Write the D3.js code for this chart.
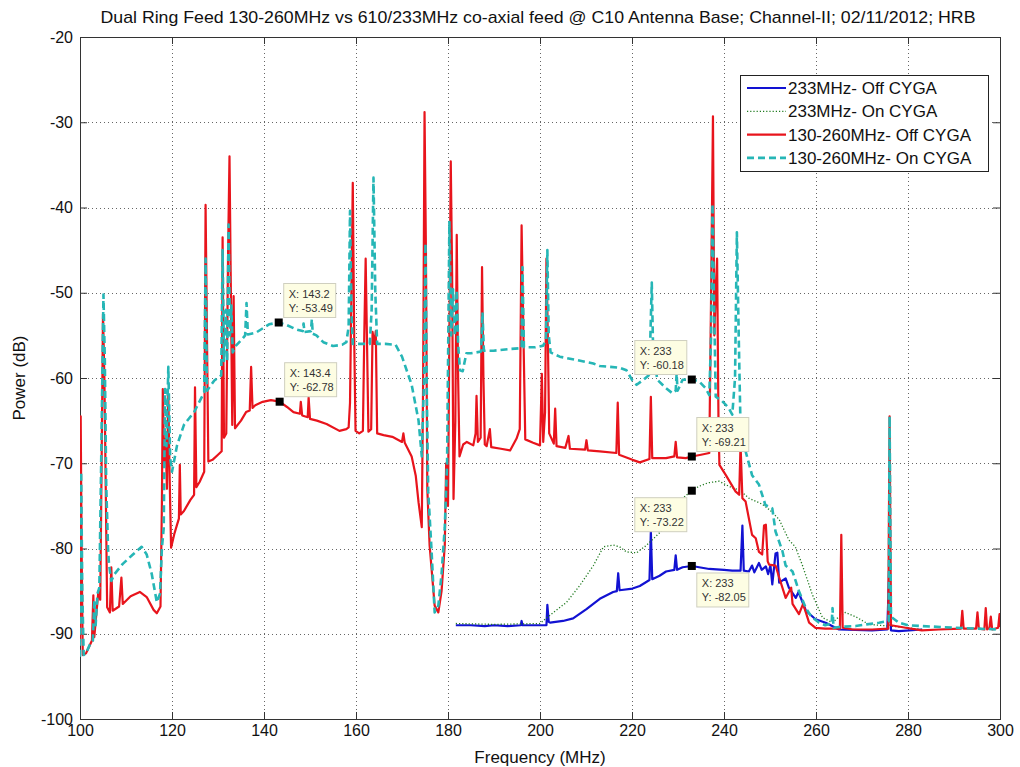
<!DOCTYPE html>
<html>
<head>
<meta charset="utf-8">
<script src="https://cdn.jsdelivr.net/npm/d3@7"></script>
<style>
  body { margin: 0; background: #fff; }
  svg { display: block; font-family: 'Liberation Sans', Arial, Helvetica, sans-serif; }
</style>
</head>
<body>
<div id="chart"></div>
<script>
// tick values
const freqTicks = [100, 120, 140, 160, 180, 200, 220, 240, 260, 280, 300];
const powerTicks = [-100, -90, -80, -70, -60, -50, -40, -30, -20];

// 233MHz feed, off source  [MHz, dB]
const narrowOff = [
  [181.7, -89], [185, -89], [188, -89.1], [190, -89], [193, -89.1], [195.8, -89], [196, -88.5], [196.2, -89],
  [198, -89], [200, -89], [201.4, -89], [201.6, -86.6], [201.9, -88.6], [202.2, -88.7], [205, -88.5],
  [207.2, -88.2], [210.1, -87.1], [213, -85.9], [215.9, -85.1], [216.7, -85], [217, -82.9], [217.3, -84.9],
  [220.1, -84.7], [221.7, -84.4], [223.8, -83.7], [224.1, -78], [224.4, -83.6], [226, -83.2], [227.4, -82.7],
  [229.2, -82.5], [229.5, -80.8], [229.8, -82.5], [231, -82.2], [233, -82.05], [236.8, -82.4], [240, -82.5],
  [241.8, -82.6], [243.6, -82.6], [244, -77.3], [244.3, -82.6], [245.4, -82.7], [246.1, -82], [246.6, -82.8],
  [247.6, -81.7], [248.2, -82.5], [249.1, -82.1], [249.6, -83], [250.1, -82], [250.5, -84.2], [251.2, -80.6],
  [251.6, -80.5], [252, -84], [253.4, -83.5], [254.1, -84.6], [255.6, -85.8], [256.2, -85.1], [257.8, -87.3],
  [259.9, -88.3], [262.1, -88.7], [265, -89.5], [272.2, -89.6], [275.5, -89.5], [276, -81], [276.3, -89.6],
  [278, -89.7], [283.1, -89.5]
];

// 233MHz feed, on source
const narrowOn = [
  [181.7, -88.8], [190, -88.9], [200, -88.8], [202.2, -87.8], [205.8, -86.3], [208.7, -84.3], [211.6, -82],
  [213.8, -79.8], [215.9, -79.6], [217.3, -79.8], [218.8, -80.4], [221, -80.5], [223.2, -79.6], [226.1, -78.1],
  [227.4, -77.3], [229, -76], [231, -74.1], [233, -73.22], [234.6, -72.7], [236.5, -72.3], [238.9, -72.1],
  [241.8, -72.9], [243.3, -73.1], [245.4, -74.1], [248.3, -74.8], [250, -75.5], [252, -76.6], [254.1, -79],
  [255.5, -79.8], [257, -81.9], [259.2, -85.4], [261.4, -88.1], [263.6, -88.7], [265, -88], [266.4, -87.5],
  [268.6, -88], [271.5, -88.9], [275.9, -89.1], [276, -85], [276.3, -89.1], [283.1, -89.5]
];

// 130-260MHz feed, off source
const wideOff = [
  [100, -91], [100.15, -64.5], [100.35, -80], [100.6, -92.5], [101.3, -92.3], [102, -91.5], [102.6, -90.8],
  [102.9, -85.5], [103.1, -90.4], [103.5, -88], [104, -85], [104.4, -86], [104.7, -70], [105, -52.5],
  [105.3, -60], [105.6, -73], [105.9, -86.9], [106.5, -87.5], [106.8, -82.2], [107.1, -87.3], [108.5, -86.8],
  [109, -83.4], [109.3, -86.5], [111, -85.6], [113, -85.1], [114.5, -85.7], [116, -87.2], [116.7, -87.6],
  [117.5, -86.8], [117.8, -75], [118, -61.3], [118.3, -70], [118.6, -67.1], [118.9, -73], [119.2, -62],
  [119.5, -72], [119.8, -79.9], [120.5, -78.3], [121.1, -77.2], [121.5, -76.5], [121.7, -70.2], [121.9, -76],
  [122.6, -75.6], [124, -74.3], [124.8, -73.7], [125, -61.1], [125.3, -72.8], [126, -72.2], [127, -71],
  [127.3, -39.7], [127.6, -55], [127.9, -69.8], [128.8, -69.6], [130, -69], [130.8, -68.6], [131, -43.5],
  [131.3, -67], [131.8, -66.5], [132.2, -45], [132.5, -34], [132.8, -50], [133.1, -65.5], [133.4, -50.4],
  [133.7, -65.9], [135, -65], [136.1, -64], [136.9, -63.8], [137.2, -58.7], [137.5, -63.5], [138.1, -63.2],
  [139.7, -62.8], [141.5, -62.6], [143.4, -62.78], [145, -63.4], [146.4, -64], [147.8, -64.2], [148, -62.8],
  [148.3, -64.4], [149.5, -64.6], [149.7, -62.3], [150, -64.8], [151.5, -65], [153.6, -65.4], [156.4, -66.2],
  [157.9, -66], [158.4, -65.8], [158.7, -62.9], [159, -50], [159.3, -37.1], [159.6, -55], [159.9, -66.2],
  [160.7, -66.5], [161.5, -66.2], [161.8, -55], [162.1, -46], [162.4, -56], [162.7, -66.3], [163.3, -66],
  [163.6, -54.6], [164, -56], [164.3, -54.5], [164.6, -66.5], [166, -66.7], [167.9, -66.9], [170, -67.5],
  [170.3, -66.5], [170.6, -67.6], [172.1, -69.2], [173, -71.5], [173.6, -74.6], [174.3, -77.5], [174.6, -60],
  [174.9, -28.8], [175.2, -45], [175.5, -73], [176, -79.6], [177.1, -86.7], [177.9, -87.5], [178.6, -85],
  [179.3, -79.6], [179.6, -70], [180, -75], [180.3, -55], [180.6, -34.6], [180.9, -48], [181.2, -74.2],
  [181.6, -65], [181.9, -43.2], [182.2, -60], [182.5, -69.2], [183.3, -67.8], [184.1, -67.5], [185.5, -67.9],
  [186, -66.5], [186.2, -62.1], [186.5, -67.5], [187.1, -67], [187.4, -47], [187.7, -60], [188, -67.8],
  [188.4, -68], [189.1, -66], [189.4, -68.1], [191.5, -68.3], [193.5, -68.5], [194.9, -67.1], [195.6, -66],
  [196, -42.1], [196.4, -55], [196.8, -67.2], [198.5, -67.6], [200, -67.9], [200.4, -59.5], [200.7, -67.5],
  [201.1, -64], [201.4, -46], [201.7, -55], [202, -66.5], [203, -67.7], [203.3, -63.6], [203.6, -68],
  [205.5, -68.2], [206.2, -66.8], [206.5, -68.3], [209.8, -68.4], [210.1, -67.3], [210.4, -68.5], [213, -68.6],
  [216.6, -68.8], [216.9, -62.9], [217.2, -69], [220.1, -69.6], [221.7, -69.9], [223.8, -69.5], [224.1, -62.2],
  [224.4, -69.4], [227.4, -69.4], [229.2, -69.2], [229.5, -67.5], [229.8, -69.3], [231.7, -69.4], [233, -69.21],
  [235, -69], [236.8, -68.8], [237.2, -50], [237.6, -29.3], [237.9, -55], [238.2, -50], [238.5, -46],
  [238.8, -65], [239, -70.2], [240.4, -71.4], [242.5, -73.3], [243.3, -73.7], [243.6, -67.8], [244, -74.1],
  [244.7, -74.5], [246.1, -78.4], [246.9, -78.8], [247.6, -80.4], [248.3, -80.7], [248.7, -77.3], [249.1, -77.2],
  [249.5, -81.5], [249.8, -81.9], [251.2, -82], [252, -83.4], [253.4, -85.8], [254.6, -84.6], [254.9, -86.5],
  [256.3, -87.7], [257.2, -86.5], [258.5, -88.7], [259.9, -89.3], [262, -89.4], [265.2, -89.4], [265.5, -78.4],
  [265.8, -89.3], [268, -89.5], [272.2, -89.5], [275.7, -89.4], [276, -64.5], [276.3, -89], [279.5, -89.3],
  [283, -89.6], [286.7, -89.5], [291.5, -89.4], [291.8, -87.3], [292.1, -89.4], [294.8, -89.4], [295.1, -87.5],
  [295.4, -89.4], [296.6, -89.5], [296.9, -87], [297.2, -89.5], [297.7, -89.3], [298, -88], [298.3, -89.5],
  [299.6, -89.3], [299.9, -87.7], [300, -89.2]
];

// 130-260MHz feed, on source
const wideOn = [
  [100, -92.7], [100.25, -71], [100.5, -85], [100.8, -92.5], [101.3, -92.3], [102.2, -91.2], [102.8, -90.8],
  [103.1, -86], [103.4, -89], [103.8, -85.3], [104.2, -84.6], [104.6, -70], [105.1, -50.2], [105.4, -58],
  [105.7, -72.5], [106.1, -80], [106.3, -81.8], [106.8, -83.8], [107.5, -83], [109.3, -81.8], [111.5, -80.7],
  [113.4, -79.8], [114.5, -80.7], [115.6, -83], [116.7, -86.3], [117.4, -85.3], [117.8, -80], [118.2, -77.6],
  [118.5, -61.3], [118.8, -68], [119.2, -58.7], [119.6, -69.4], [120, -71], [121.1, -67.9], [122.6, -65.5],
  [124.8, -64], [127, -61.7], [127.3, -46], [127.6, -61.5], [129.2, -60.3], [130.7, -59.7], [131, -45],
  [131.3, -58], [131.7, -52], [132, -58], [132.3, -42], [132.6, -55], [132.9, -51.5], [133.2, -57],
  [133.9, -56.2], [135.3, -55.4], [135.9, -55], [136.2, -51.2], [136.5, -54.9], [138.2, -54.7], [141.1, -53.7],
  [143.2, -53.49], [145, -53.8], [147, -54.3], [148.4, -54.5], [148.6, -53.6], [148.8, -54.6], [150.2, -54.5],
  [150.4, -53.1], [150.6, -54.8], [151.4, -55], [152.9, -55.8], [155, -56.25], [157, -56.1], [157.9, -55.8],
  [158.4, -54], [158.7, -40.4], [159, -52], [159.3, -56], [161, -56], [163, -56], [163.4, -52], [163.8, -36.5],
  [164.2, -50], [164.6, -56], [166.4, -56], [168.6, -56.1], [170, -57.5], [172.1, -60.8], [173.6, -65],
  [174.3, -69.2], [174.8, -60], [175.1, -44.2], [175.4, -62], [175.7, -73.3], [176.4, -80], [177.1, -87.5],
  [177.9, -86.7], [178.6, -83], [179.3, -77.5], [179.8, -70], [180.3, -41.7], [180.7, -55], [181.1, -49.6],
  [181.5, -55], [181.9, -49.7], [182.2, -56], [182.6, -59.1], [183.2, -59.2], [184, -57.1], [185, -57.1],
  [187.2, -56.9], [187.5, -52.3], [187.8, -56.8], [189.9, -56.8], [193.5, -56.6], [196, -56.5], [196.2, -47],
  [196.5, -56.4], [199, -56.4], [200.7, -56.2], [201.3, -55.5], [201.6, -45], [201.9, -55], [202.3, -57],
  [204.3, -57.5], [208, -57.9], [211.6, -58.3], [213, -58.6], [215.3, -58.7], [217.3, -58.8], [218.8, -59.1],
  [220.1, -60.3], [221, -60.8], [222.5, -60.2], [223.8, -59.6], [224, -55], [224.3, -48.8], [224.6, -57],
  [225.5, -60.2], [227.4, -61.2], [228.8, -61.8], [229.5, -61.5], [229.7, -59.5], [229.9, -61.5], [231, -60.2],
  [233, -60.18], [234.6, -60.4], [236, -61.2], [236.8, -62], [237.2, -55], [237.5, -39.6], [237.8, -50],
  [238.2, -62.2], [239.6, -62.7], [241, -63.5], [241.8, -64.3], [242.4, -60], [242.8, -42.9], [243.2, -55],
  [243.6, -66], [244, -67.5], [244.7, -68.6], [246.1, -71.4], [247.6, -72.5], [249, -74.9], [250.5, -75.3],
  [251.2, -78], [252.7, -80.3], [253.4, -82], [254.9, -82.7], [256.3, -85], [257.8, -87], [259, -88],
  [260.7, -88.7], [262, -89], [263.4, -88.8], [263.6, -87], [263.8, -89.3], [265, -89.2], [268.6, -89.1],
  [271, -88.9], [273.7, -88.7], [275.8, -88.5], [276, -64.5], [276.3, -88], [278, -88.7], [280, -89],
  [283.1, -89.1], [287, -89.2], [290.4, -89.3], [295, -89.4], [300, -89.5]
];

const seriesNames = ['233MHz- Off CYGA', '233MHz- On CYGA', '130-260MHz- Off CYGA', '130-260MHz- On CYGA'];

// data cursors
const tipFreq = ['143.2', '143.4', '233', '233', '233', '233'];
const tipPower = ['-53.49', '-62.78', '-60.18', '-69.21', '-73.22', '-82.05'];
const tipSide = ['ne', 'ne', 'nw', 'ne', 'sw', 'se'];

const width = 1020, height = 767;
const margin = { top: 37, right: 20, bottom: 48, left: 80 };

const x = d3.scaleLinear().domain([100, 300]).range([margin.left, width - margin.right]);
const y = d3.scaleLinear().domain([-100, -20]).range([height - margin.bottom, margin.top]);

const svg = d3.select('#chart').append('svg')
  .attr('width', width)
  .attr('height', height);

svg.append('rect').attr('width', width).attr('height', height).attr('fill', '#fff');

svg.append('defs').append('clipPath').attr('id', 'plotClip')
  .append('rect')
  .attr('x', margin.left).attr('y', margin.top)
  .attr('width', width - margin.left - margin.right)
  .attr('height', height - margin.top - margin.bottom);

/* grid */
const grid = svg.append('g').attr('class', 'grid')
  .attr('stroke', '#666').attr('stroke-width', 1).attr('stroke-dasharray', '1,3');
grid.selectAll('.vg').data(freqTicks.slice(1, -1)).enter().append('line')
  .attr('x1', d => Math.round(x(d)) + 0.5).attr('x2', d => Math.round(x(d)) + 0.5)
  .attr('y1', margin.top).attr('y2', height - margin.bottom);
grid.selectAll('.hg').data(powerTicks.slice(1, -1)).enter().append('line')
  .attr('y1', d => Math.round(y(d)) + 0.5).attr('y2', d => Math.round(y(d)) + 0.5)
  .attr('x1', margin.left).attr('x2', width - margin.right);

/* axes, ticks inward, plain hyphen minus like the original */
const xAxis = d3.axisBottom(x).tickValues(freqTicks).tickSizeInner(-7).tickSizeOuter(0).tickPadding(6)
  .tickFormat(d => String(d));
const yAxis = d3.axisLeft(y).tickValues(powerTicks).tickSizeInner(-7).tickSizeOuter(0).tickPadding(7)
  .tickFormat(d => String(d));

const gx = svg.append('g').attr('transform', `translate(0,${height - margin.bottom})`).call(xAxis);
const gy = svg.append('g').attr('transform', `translate(${margin.left},0)`).call(yAxis);
svg.append('g').attr('transform', `translate(0,${margin.top})`)
  .call(d3.axisTop(x).tickValues(freqTicks).tickSizeInner(-7).tickSizeOuter(0).tickFormat(''));
svg.append('g').attr('transform', `translate(${width - margin.right},0)`)
  .call(d3.axisRight(y).tickValues(powerTicks).tickSizeInner(-7).tickSizeOuter(0).tickFormat(''));

svg.selectAll('.domain').remove();
svg.selectAll('.tick line').attr('stroke', '#333');
[gx, gy].forEach(g => g.selectAll('text')
  .style('font-size', '16px').style('font-family', "'Liberation Sans', Arial, sans-serif").attr('fill', '#111'));

svg.append('rect')
  .attr('x', margin.left + 0.5).attr('y', margin.top + 0.5)
  .attr('width', width - margin.left - margin.right)
  .attr('height', height - margin.top - margin.bottom)
  .attr('fill', 'none').attr('stroke', '#333').attr('stroke-width', 1);

/* spectra */
const line = d3.line().x(d => x(d[0])).y(d => y(d[1]));
const styles = [
  { data: narrowOff, color: '#1212d2', width: 2.2, dash: null },
  { data: narrowOn, color: '#1f7a1f', width: 1.3, dash: '1.2,2' },
  { data: wideOff, color: '#e8141c', width: 2.2, dash: null },
  { data: wideOn, color: '#26b6b6', width: 2.6, dash: '7,4' },
];
const plot = svg.append('g').attr('clip-path', 'url(#plotClip)');
plot.selectAll('.spectrum').data(styles).enter().append('path')
  .attr('class', 'spectrum')
  .attr('d', d => line(d.data))
  .attr('fill', 'none')
  .attr('stroke', d => d.color)
  .attr('stroke-width', d => d.width)
  .attr('stroke-linejoin', 'round')
  .attr('stroke-dasharray', d => d.dash);

/* data cursors */
const tips = tipFreq.map((f, i) => ({ f: +f, p: +tipPower[i], fs: f, ps: tipPower[i], side: tipSide[i] }));
const tip = svg.append('g').selectAll('.tip').data(tips).enter().append('g').attr('class', 'tip');
const boxW = 52, boxH = 34;
const bx = d => d.side.includes('w') ? x(d.f) - boxW - 5 : x(d.f) + 5;
const by = d => d.side.includes('n') ? y(d.p) - boxH - 5 : y(d.p) + 7;
tip.append('rect')
  .attr('x', bx).attr('y', by).attr('width', boxW).attr('height', boxH)
  .attr('fill', '#fdfde3').attr('stroke', '#cfcfbf').attr('stroke-width', 1);
tip.append('text')
  .attr('x', d => bx(d) + 5).attr('y', d => by(d) + 14)
  .style('font-size', '11px').attr('fill', '#333')
  .text(d => `X: ${d.fs}`);
tip.append('text')
  .attr('x', d => bx(d) + 5).attr('y', d => by(d) + 28)
  .style('font-size', '11px').attr('fill', '#333')
  .text(d => `Y: ${d.ps}`);
tip.append('rect')
  .attr('x', d => x(d.f) - 4).attr('y', d => y(d.p) - 4)
  .attr('width', 8).attr('height', 8).attr('fill', '#000');

/* legend */
const legend = svg.append('g').attr('class', 'legend');
legend.append('rect')
  .attr('x', 740.5).attr('y', 75.5).attr('width', 248).attr('height', 96)
  .attr('fill', '#fff').attr('stroke', '#222').attr('stroke-width', 1);
const item = legend.selectAll('.item').data(styles).enter().append('g')
  .attr('transform', (d, i) => `translate(0,${88 + i * 23.3})`);
item.append('line')
  .attr('x1', 747).attr('x2', 786).attr('y1', 0).attr('y2', 0)
  .attr('stroke', d => d.color).attr('stroke-width', d => d.width)
  .attr('stroke-dasharray', d => d.dash);
item.append('text')
  .attr('x', 788).attr('y', 6)
  .style('font-size', '17px').attr('fill', '#111')
  .text((d, i) => seriesNames[i]);

/* titles */
svg.append('text')
  .attr('x', 538).attr('y', 23)
  .attr('text-anchor', 'middle')
  .attr('textLength', 875).attr('lengthAdjust', 'spacingAndGlyphs')
  .style('font-size', '17px').attr('fill', '#111')
  .text('Dual Ring Feed 130-260MHz vs 610/233MHz co-axial feed @ C10 Antenna Base; Channel-II; 02/11/2012; HRB');

svg.append('text')
  .attr('x', 540).attr('y', 763)
  .attr('text-anchor', 'middle')
  .style('font-size', '17px').attr('fill', '#111')
  .text('Frequency (MHz)');

svg.append('text')
  .attr('transform', 'translate(25,378) rotate(-90)')
  .attr('text-anchor', 'middle')
  .style('font-size', '17px').attr('fill', '#111')
  .text('Power (dB)');
</script>
</body>
</html>
